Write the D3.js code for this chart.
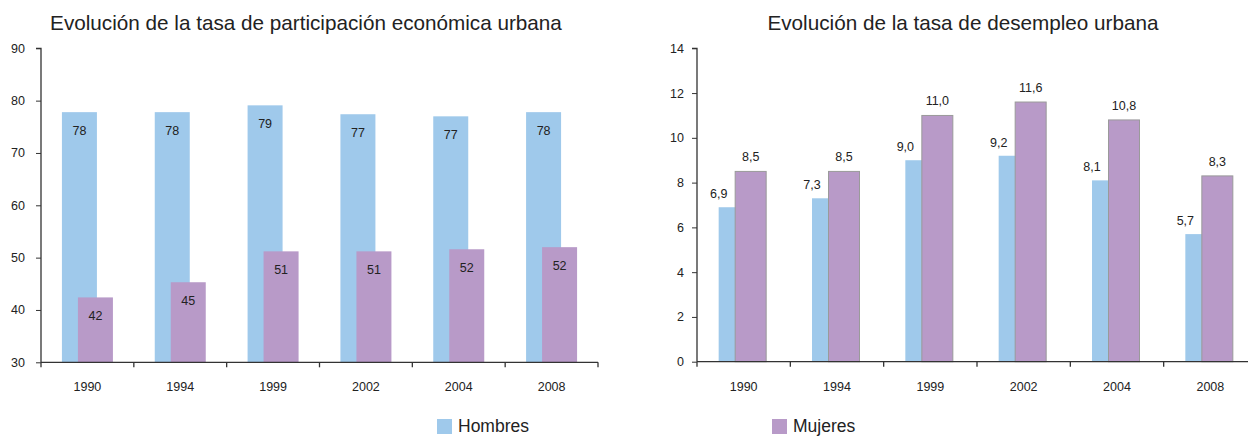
<!DOCTYPE html>
<html><head><meta charset="utf-8">
<script src="https://cdn.jsdelivr.net/npm/d3@7"></script>
<style>
body{margin:0;background:#fff;}
svg{display:block;font-family:"Liberation Sans",Arial,sans-serif;}
</style></head><body>
<svg id="c" width="1248" height="436"></svg>
<script>
const years = ["1990","1994","1999","2002","2004","2008"];
const partHombres = [77.8,77.8,79.1,77.4,77.0,77.8];
const partMujeres = [42.4,45.3,51.2,51.2,51.6,52.0];
const desHombres = [6.9,7.3,9.0,9.2,8.1,5.7];
const desMujeres = [8.5,8.5,11.0,11.6,10.8,8.3];
const partTicks = [30,40,50,60,70,80,90];
const desTicks = [0,2,4,6,8,10,12,14];
const seriesNames = ["Hombres","Mujeres"];
const colors = {Hombres:"#9fc9eb", Mujeres:"#b89ac8"};

const svg = d3.select("#c");
const textCol = "#222";

function drawAxes(g, x, y, ticks, labelGap, fmt){
  const yAxis = d3.axisLeft(y).tickValues(ticks).tickSize(5).tickPadding(labelGap).tickFormat(fmt);
  const ya = g.append("g").attr("transform",`translate(${x.range()[0]},0)`).call(yAxis);
  ya.select(".domain").attr("stroke","#333").attr("stroke-width",1.3).attr("d",`M-5,${y.range()[1]}H0V${y.range()[0]}`);
  ya.selectAll(".tick line").attr("stroke","#333");
  ya.selectAll(".tick text").attr("fill",textCol).style("font-size","12.5px");
  const xAxis = d3.axisBottom(x).tickSize(0).tickPadding(20);
  const xa = g.append("g").attr("transform",`translate(0,${y.range()[0]})`).call(xAxis);
  xa.select(".domain").attr("stroke","#333").attr("stroke-width",1.3).attr("d",`M${x.range()[0]},0H${x.range()[1]}`);
  xa.selectAll(".tick text").attr("fill",textCol).style("font-size","12.5px");
  const bounds = years.map(d=>x(d)).concat([x.range()[1]]);
  xa.selectAll(".bt").data(bounds).join("line").attr("class","bt")
    .attr("x1",d=>d).attr("x2",d=>d).attr("y1",0).attr("y2",5).attr("stroke","#333").attr("stroke-width",1.3);
}

// Left chart
{
  const g = svg.append("g");
  const x = d3.scaleBand().domain(years).range([41,598]);
  const y = d3.scaleLinear().domain([30,90]).range([362.3,48.3]);
  const c = d => x(d)+x.bandwidth()/2;
  const w = 35;
  g.selectAll(".h").data(years).join("rect").attr("x",(d)=>c(d)-25.5).attr("width",w)
    .attr("y",(d,i)=>y(partHombres[i])).attr("height",(d,i)=>y(30)-y(partHombres[i])).attr("fill",colors.Hombres);
  g.selectAll(".m").data(years).join("rect").attr("x",(d)=>c(d)-9.5).attr("width",w)
    .attr("y",(d,i)=>y(partMujeres[i])).attr("height",(d,i)=>y(30)-y(partMujeres[i])).attr("fill",colors.Mujeres);
  g.selectAll(".hl").data(years).join("text").attr("x",d=>c(d)-25.5+w/2).attr("y",(d,i)=>y(partHombres[i])+23)
    .attr("text-anchor","middle").attr("fill",textCol).style("font-size","12.5px").text((d,i)=>Math.round(partHombres[i]));
  g.selectAll(".ml").data(years).join("text").attr("x",d=>c(d)-9.5+w/2).attr("y",(d,i)=>y(partMujeres[i])+23)
    .attr("text-anchor","middle").attr("fill",textCol).style("font-size","12.5px").text((d,i)=>Math.round(partMujeres[i]));
  drawAxes(g,x,y,partTicks,11,d3.format("d"));
  g.append("text").attr("x",306).attr("y",30).attr("text-anchor","middle").attr("fill",textCol)
    .style("font-size","20.7px").text("Evolución de la tasa de participación económica urbana");
}

// Right chart
{
  const g = svg.append("g");
  const x = d3.scaleBand().domain(years).range([697,1257]);
  const y = d3.scaleLinear().domain([0,14]).range([361.7,48.3]);
  const c = d => x(d)+x.bandwidth()/2;
  const fmt = v => d3.format(".1f")(v).replace(".",",");
  g.selectAll(".h").data(years).join("rect").attr("x",(d)=>c(d)-25).attr("width",30)
    .attr("y",(d,i)=>y(desHombres[i])).attr("height",(d,i)=>y(0)-y(desHombres[i])).attr("fill",colors.Hombres);
  g.selectAll(".m").data(years).join("rect").attr("x",(d)=>c(d)-8.5).attr("width",31)
    .attr("y",(d,i)=>y(desMujeres[i])).attr("height",(d,i)=>y(0)-y(desMujeres[i])).attr("fill",colors.Mujeres)
    .attr("stroke","#9a9a9a").attr("stroke-width",1);
  g.selectAll(".hl").data(years).join("text").attr("x",d=>c(d)-25).attr("y",(d,i)=>y(desHombres[i])-9)
    .attr("text-anchor","middle").attr("fill",textCol).style("font-size","12.5px").text((d,i)=>fmt(desHombres[i]));
  g.selectAll(".ml").data(years).join("text").attr("x",d=>c(d)-8.5+15.5).attr("y",(d,i)=>y(desMujeres[i])-10)
    .attr("text-anchor","middle").attr("fill",textCol).style("font-size","12.5px").text((d,i)=>fmt(desMujeres[i]));
  drawAxes(g,x,y,desTicks,8,d3.format("d"));
  g.append("text").attr("x",963).attr("y",30).attr("text-anchor","middle").attr("fill",textCol)
    .style("font-size","20.7px").text("Evolución de la tasa de desempleo urbana");
}

// Legend
{
  const lx = [437, 772];
  const lg = svg.selectAll(".lg").data(seriesNames).join("g").attr("class","lg")
    .attr("transform",(d,i)=>`translate(${lx[i]},419)`);
  lg.append("rect").attr("width",15).attr("height",15).attr("fill",d=>colors[d]);
  lg.append("text").attr("x",21).attr("y",13).attr("fill",textCol).style("font-size","17.5px").text(d=>d);
}
</script>
</body></html>
